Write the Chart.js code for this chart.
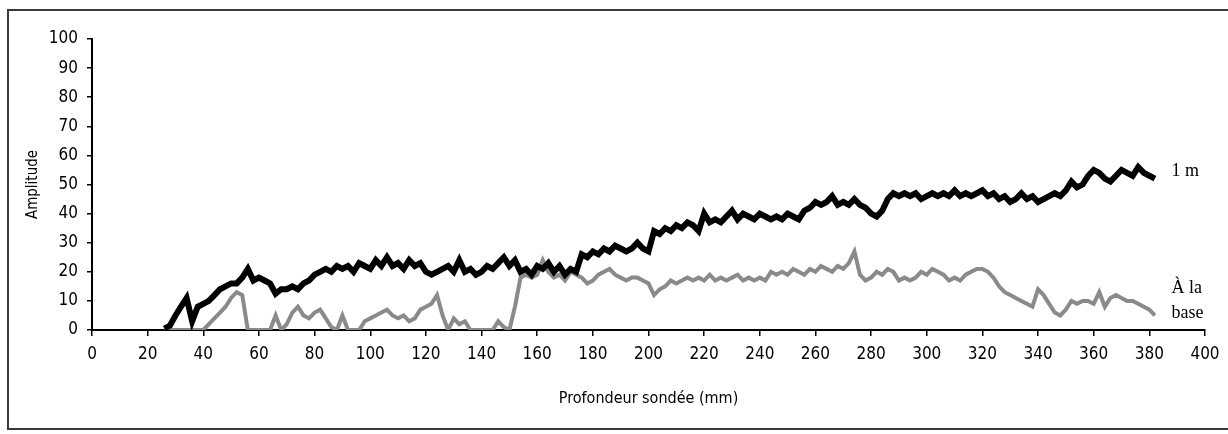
<!DOCTYPE html>
<html>
<head>
<meta charset="utf-8">
<script src="https://cdn.jsdelivr.net/npm/chart.js@4.4.0/dist/chart.umd.min.js"></script>
<style>
  body { margin: 0; background: #fff; }
  #wrap { width: 1228px; height: 434px; }
</style>
</head>
<body>
<div id="wrap"><canvas id="ampChart" width="1228" height="434"></canvas></div>
<script>
// depth (mm) readings, every 2 mm
const depths = [
    26, 28, 30, 32, 34, 36, 38, 40, 42, 44,
    46, 48, 50, 52, 54, 56, 58, 60, 62, 64,
    66, 68, 70, 72, 74, 76, 78, 80, 82, 84,
    86, 88, 90, 92, 94, 96, 98, 100, 102, 104,
    106, 108, 110, 112, 114, 116, 118, 120, 122, 124,
    126, 128, 130, 132, 134, 136, 138, 140, 142, 144,
    146, 148, 150, 152, 154, 156, 158, 160, 162, 164,
    166, 168, 170, 172, 174, 176, 178, 180, 182, 184,
    186, 188, 190, 192, 194, 196, 198, 200, 202, 204,
    206, 208, 210, 212, 214, 216, 218, 220, 222, 224,
    226, 228, 230, 232, 234, 236, 238, 240, 242, 244,
    246, 248, 250, 252, 254, 256, 258, 260, 262, 264,
    266, 268, 270, 272, 274, 276, 278, 280, 282, 284,
    286, 288, 290, 292, 294, 296, 298, 300, 302, 304,
    306, 308, 310, 312, 314, 316, 318, 320, 322, 324,
    326, 328, 330, 332, 334, 336, 338, 340, 342, 344,
    346, 348, 350, 352, 354, 356, 358, 360, 362, 364,
    366, 368, 370, 372, 374, 376, 378, 380, 382
];

// amplitude at 1 m
const amp1m = [
    0.5, 1.5, 5, 8, 11, 3, 8, 9, 10, 12,
    14, 15, 16, 16, 18, 21, 17, 18, 17, 16,
    12.5, 14, 14, 15, 14, 16, 17, 19, 20, 21,
    20, 22, 21, 22, 20, 23, 22, 21, 24, 22,
    25, 22, 23, 21, 24, 22, 23, 20, 19, 20,
    21, 22, 20, 24, 20, 21, 19, 20, 22, 21,
    23, 25, 22, 24, 20, 21, 19, 22, 21, 23,
    20, 22, 19, 21, 20, 26, 25, 27, 26, 28,
    27, 29, 28, 27, 28, 30, 28, 27, 34, 33,
    35, 34, 36, 35, 37, 36, 34, 40, 37, 38,
    37, 39, 41, 38, 40, 39, 38, 40, 39, 38,
    39, 38, 40, 39, 38, 41, 42, 44, 43, 44,
    46, 43, 44, 43, 45, 43, 42, 40, 39, 41,
    45, 47, 46, 47, 46, 47, 45, 46, 47, 46,
    47, 46, 48, 46, 47, 46, 47, 48, 46, 47,
    45, 46, 44, 45, 47, 45, 46, 44, 45, 46,
    47, 46, 48, 51, 49, 50, 53, 55, 54, 52,
    51, 53, 55, 54, 53, 56, 54, 53, 52
];

// amplitude at the base
const ampBase = [
    0, 0, 0, 0, 0, 0, 0, 0, 2, 4,
    6, 8, 11, 13, 12, 0, 0, 0, 0, 0,
    5, 0, 2, 6, 8, 5, 4, 6, 7, 4,
    1, 0, 5, 0, 0, 0, 3, 4, 5, 6,
    7, 5, 4, 5, 3, 4, 7, 8, 9, 12,
    5, 0, 4, 2, 3, 0, 0, 0, 0, 0,
    3, 1, 0, 8, 18, 19, 18, 19, 24, 20,
    18, 19, 17, 20, 19, 18, 16, 17, 19, 20,
    21, 19, 18, 17, 18, 18, 17, 16, 12, 14,
    15, 17, 16, 17, 18, 17, 18, 17, 19, 17,
    18, 17, 18, 19, 17, 18, 17, 18, 17, 20,
    19, 20, 19, 21, 20, 19, 21, 20, 22, 21,
    20, 22, 21, 23, 27, 19, 17, 18, 20, 19,
    21, 20, 17, 18, 17, 18, 20, 19, 21, 20,
    19, 17, 18, 17, 19, 20, 21, 21, 20, 18,
    15, 13, 12, 11, 10, 9, 8, 14, 12, 9,
    6, 5, 7, 10, 9, 10, 10, 9, 13, 8,
    11, 12, 11, 10, 10, 9, 8, 7, 5
];

// end-of-line labels: [text lines, anchor depth, anchor amplitudes]
const seriesLabels = [
    { lines: ['1 m'], depth: 388, amps: [54.5] },
    { lines: ['\u00C0 la', 'base'], depth: 388, amps: [14.5, 5.8] }
];

const tickFont = '"Liberation Sans Narrow", "DejaVu Sans Condensed", "Liberation Sans", Arial, sans-serif';

const toPoints = vals => depths.map((d, i) => ({ x: d, y: vals[i] }));

// frame around the figure + labels next to the curves
const decorPlugin = {
    id: 'decor',
    beforeDraw(chart) {
        const c = chart.ctx;
        c.save();
        c.fillStyle = '#fff';
        c.fillRect(0, 0, chart.width, chart.height);
        c.strokeStyle = '#3a3a3a';
        c.lineWidth = 2;
        c.beginPath();
        c.moveTo(1240, 10);
        c.lineTo(8, 10);
        c.lineTo(8, 429);
        c.lineTo(1240, 429);
        c.stroke();
        c.restore();
    },
    afterDraw(chart) {
        const c = chart.ctx;
        const xs = chart.scales.x, ys = chart.scales.y;
        c.save();
        c.fillStyle = '#000';
        c.font = '18px "Liberation Serif", "DejaVu Serif", serif';
        c.textBaseline = 'middle';
        seriesLabels.forEach(l => {
            l.lines.forEach((t, i) => {
                c.fillText(t, xs.getPixelForValue(l.depth), ys.getPixelForValue(l.amps[i]));
            });
        });
        c.restore();
    }
};

const ctx = document.getElementById('ampChart').getContext('2d');
const ampChart = new Chart(ctx, {
    type: 'line',
    data: {
        datasets: [{
            label: '1 m',
            data: toPoints(amp1m),
            borderColor: '#000',
            borderWidth: 6,
            borderJoinStyle: 'miter',
            pointRadius: 0,
            tension: 0
        }, {
            label: '\u00C0 la base',
            data: toPoints(ampBase),
            borderColor: '#8a8a8a',
            borderWidth: 4,
            pointRadius: 0,
            tension: 0
        }]
    },
    options: {
        responsive: false,
        animation: false,
        layout: { padding: { left: 0, top: 39, right: 23, bottom: 0 } },
        plugins: {
            legend: { display: false },
            tooltip: { enabled: false }
        },
        scales: {
            x: {
                type: 'linear',
                min: 0,
                max: 400,
                afterFit: s => { s.height = 104; },
                ticks: {
                    stepSize: 20,
                    padding: 8,
                    maxRotation: 0,
                    color: '#000',
                    font: { family: tickFont, size: 17 }
                },
                grid: { drawOnChartArea: false, drawTicks: true, tickLength: 6, color: '#000', lineWidth: 1.5 },
                border: { display: true, color: '#000', width: 2 },
                title: {
                    display: true,
                    text: 'Profondeur sond\u00E9e (mm)',
                    color: '#000',
                    font: { family: tickFont, size: 16 },
                    padding: { top: 0, bottom: 26 }
                }
            },
            y: {
                min: 0,
                max: 100,
                afterFit: s => { s.width = 92; },
                ticks: {
                    stepSize: 10,
                    padding: 9,
                    color: '#000',
                    font: { family: tickFont, size: 17 }
                },
                grid: { drawOnChartArea: false, drawTicks: true, tickLength: 5, color: '#000', lineWidth: 1.5 },
                border: { display: true, color: '#000', width: 2 },
                title: {
                    display: true,
                    text: 'Amplitude',
                    color: '#000',
                    font: { family: tickFont, size: 15 },
                    padding: { top: 24, bottom: 0 }
                }
            }
        }
    },
    plugins: [decorPlugin]
});
</script>
</body>
</html>
